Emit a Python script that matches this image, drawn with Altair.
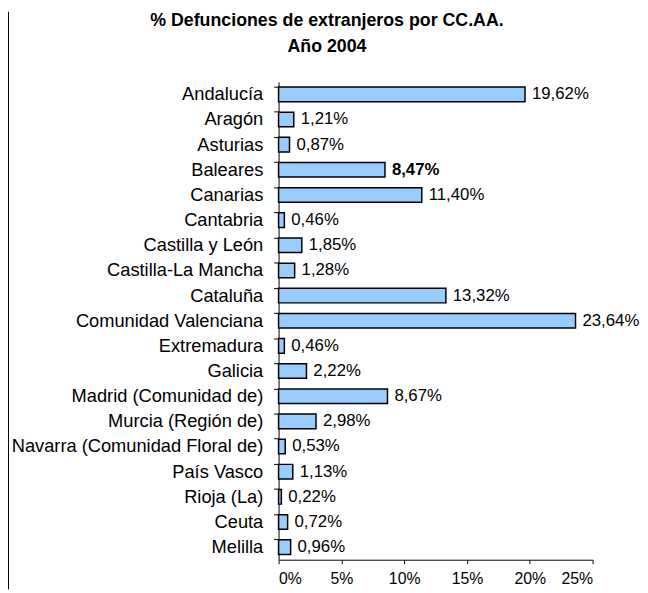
import altair as alt
import pandas as pd

regions = [
    "Andalucía", "Aragón", "Asturias", "Baleares", "Canarias", "Cantabria",
    "Castilla y León", "Castilla-La Mancha", "Cataluña", "Comunidad Valenciana",
    "Extremadura", "Galicia", "Madrid (Comunidad de)", "Murcia (Región de)",
    "Navarra (Comunidad Floral de)", "País Vasco", "Rioja (La)", "Ceuta", "Melilla",
]
values = [19.62, 1.21, 0.87, 8.47, 11.40, 0.46, 1.85, 1.28, 13.32, 23.64,
          0.46, 2.22, 8.67, 2.98, 0.53, 1.13, 0.22, 0.72, 0.96]
bold_labels = ["Baleares"]
x_ticks = [0, 5, 10, 15, 20, 25]
title_lines = ["% Defunciones de extranjeros por CC.AA.", "Año 2004"]

df = pd.DataFrame({"region": regions, "value": values})
df["label"] = [f"{v:.2f}".replace(".", ",") + "%" for v in values]
df["bold"] = [r in bold_labels for r in regions]

FONT = "Liberation Sans"

y_enc = alt.Y(
    "region:N", sort=regions, title=None,
    scale=alt.Scale(paddingInner=0.42, paddingOuter=0.21),
    axis=alt.Axis(
        labelFont=FONT, labelFontSize=18.5, labelColor="black",
        domainColor="black", tickColor="black", tickSize=5,
        labelPadding=11, bandPosition=0, grid=False, labelLimit=400,
    ),
)
x_enc = alt.X(
    "value:Q", title=None,
    scale=alt.Scale(domain=[0, 25], nice=False),
    axis=alt.Axis(
        values=x_ticks, labelExpr="datum.value + '%'", labelFont=FONT,
        labelFontSize=16, labelColor="black", domainColor="black",
        tickColor="black", tickSize=4, labelPadding=7, grid=False,
    ),
)

base = alt.Chart(df)

bars = base.mark_bar(color="#99CCFF", stroke="black", strokeWidth=1.5).encode(
    x=x_enc, y=y_enc
)

labels_normal = base.transform_filter("!datum.bold").mark_text(
    align="left", baseline="middle", dx=7, font=FONT, fontSize=17, color="black"
).encode(x="value:Q", y=alt.Y("region:N", sort=regions), text="label:N")

labels_bold = base.transform_filter("datum.bold").mark_text(
    align="left", baseline="middle", dx=7, font=FONT, fontSize=17,
    fontWeight="bold", color="black"
).encode(x="value:Q", y=alt.Y("region:N", sort=regions), text="label:N")

frame = alt.Chart(alt.Data(values=[{}])).mark_rule(
    color="black", strokeWidth=2
).encode(x=alt.value(-274), y=alt.value(-71), y2=alt.value(514))

chart = alt.layer(bars, labels_normal, labels_bold, frame).properties(
    width=318,
    height=484,
    autosize=alt.AutoSizeParams(type="none"),
    padding={"left": 274, "top": 71, "right": 48, "bottom": 30},
    title=alt.TitleParams(
        text=title_lines, font=FONT, fontSize=18, fontWeight="bold",
        color="black", anchor="middle", frame="group", dx=-110, offset=0,
        dy=46, lineHeight=26,
    ),
).configure_view(stroke=None)

chart.save("out.html", embed_options={"renderer": "svg", "actions": False})
